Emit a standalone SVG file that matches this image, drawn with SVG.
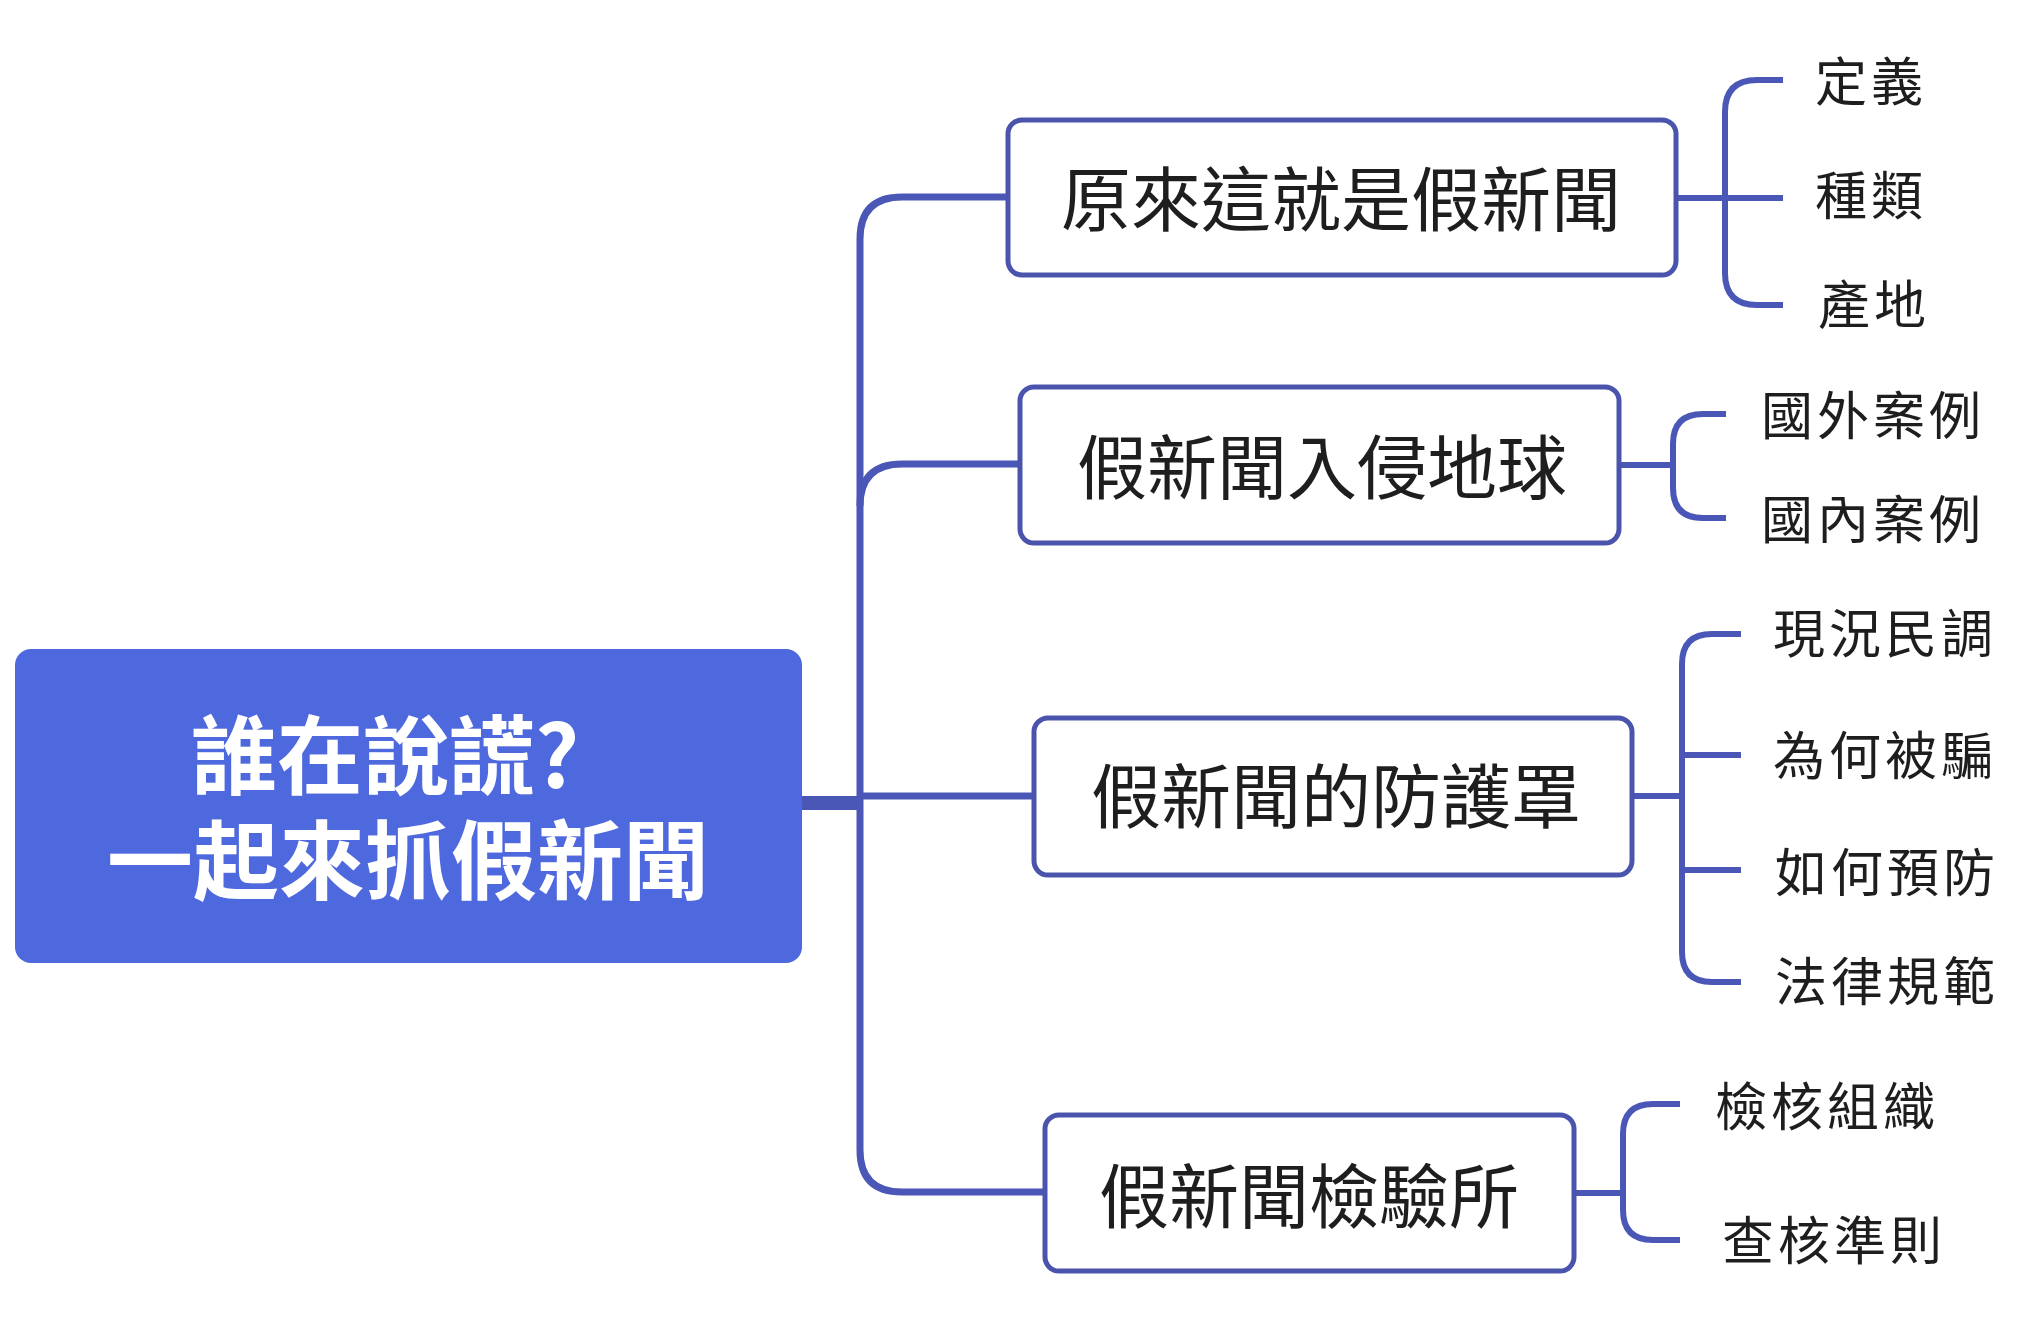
<svg xmlns="http://www.w3.org/2000/svg" width="2027" height="1318" viewBox="0 0 2027 1318">
<style>
.bg{fill:#ffffff}
.root{fill:#4e69dd}
.box{fill:#ffffff;stroke:#4b54ad;stroke-width:5}
.ln{fill:none;stroke:#4a57b6;stroke-width:6;stroke-linecap:butt}
.rt{font-family:"Noto Sans CJK TC","Noto Sans CJK SC",sans-serif;font-weight:700;font-size:86px;fill:#ffffff;text-anchor:middle}
.mt{font-family:"Noto Sans CJK TC","Noto Sans CJK SC",sans-serif;font-weight:400;font-size:70px;fill:#1e1e1e;text-anchor:middle}
.lt{font-family:"Noto Sans CJK TC","Noto Sans CJK SC",sans-serif;font-weight:400;font-size:52px;fill:#1e1e1e;letter-spacing:4px}
</style>
<rect class="bg" x="0" y="0" width="2027" height="1318"/>
<g id="connectors">
<path class="ln" d="M802 803 H860" style="stroke-width:14"/>
<path class="ln" d="M1008 197 H902 Q860 197 860 239 V1150 Q860 1192 902 1192 H1045" style="stroke-width:7"/>
<path class="ln" d="M860 506 Q860 464 902 464 H1020" style="stroke-width:7"/>
<path class="ln" d="M860 796 H1034" style="stroke-width:7"/>
<path class="ln" d="M1676 198 H1783"/>
<path class="ln" d="M1783 80 H1757 Q1725 80 1725 112 V273 Q1725 305 1757 305 H1783"/>
<path class="ln" d="M1619 465 H1673"/>
<path class="ln" d="M1726 414 H1703 Q1673 414 1673 444 V488 Q1673 518 1703 518 H1726"/>
<path class="ln" d="M1632 796 H1682"/>
<path class="ln" d="M1741 634 H1712 Q1682 634 1682 664 V952 Q1682 982 1712 982 H1741"/>
<path class="ln" d="M1682 755 H1741"/>
<path class="ln" d="M1682 870 H1741"/>
<path class="ln" d="M1574 1193 H1623"/>
<path class="ln" d="M1680 1104 H1653 Q1623 1104 1623 1134 V1210 Q1623 1240 1653 1240 H1680"/>
</g>
<g id="root">
<rect class="root" x="15" y="649" width="787" height="314" rx="16"/>
<text class="rt" x="385" y="788">誰在說謊?</text>
<text class="rt" x="408" y="893">一起來抓假新聞</text>
</g>
<g id="n1">
<rect class="box" x="1008" y="120" width="668" height="155" rx="14"/>
<text class="mt" x="1341" y="226">原來這就是假新聞</text>
</g>
<g id="n2">
<rect class="box" x="1020" y="387" width="599" height="156" rx="14"/>
<text class="mt" x="1322" y="494">假新聞入侵地球</text>
</g>
<g id="n3">
<rect class="box" x="1034" y="718" width="598" height="157" rx="14"/>
<text class="mt" x="1336" y="823">假新聞的防護罩</text>
</g>
<g id="n4">
<rect class="box" x="1045" y="1115" width="529" height="156" rx="14"/>
<text class="mt" x="1309" y="1223">假新聞檢驗所</text>
</g>
<g id="l1a"><text class="lt" x="1815" y="101">定義</text></g>
<g id="l1b"><text class="lt" x="1815" y="215">種類</text></g>
<g id="l1c"><text class="lt" x="1818" y="324">產地</text></g>
<g id="l2a"><text class="lt" x="1761" y="435">國外案例</text></g>
<g id="l2b"><text class="lt" x="1761" y="539">國內案例</text></g>
<g id="l3a"><text class="lt" x="1773" y="653">現況民調</text></g>
<g id="l3b"><text class="lt" x="1773" y="775">為何被騙</text></g>
<g id="l3c"><text class="lt" x="1775" y="892">如何預防</text></g>
<g id="l3d"><text class="lt" x="1775" y="1001">法律規範</text></g>
<g id="l4a"><text class="lt" x="1715" y="1126">檢核組織</text></g>
<g id="l4b"><text class="lt" x="1722" y="1260">查核準則</text></g>
</svg>
